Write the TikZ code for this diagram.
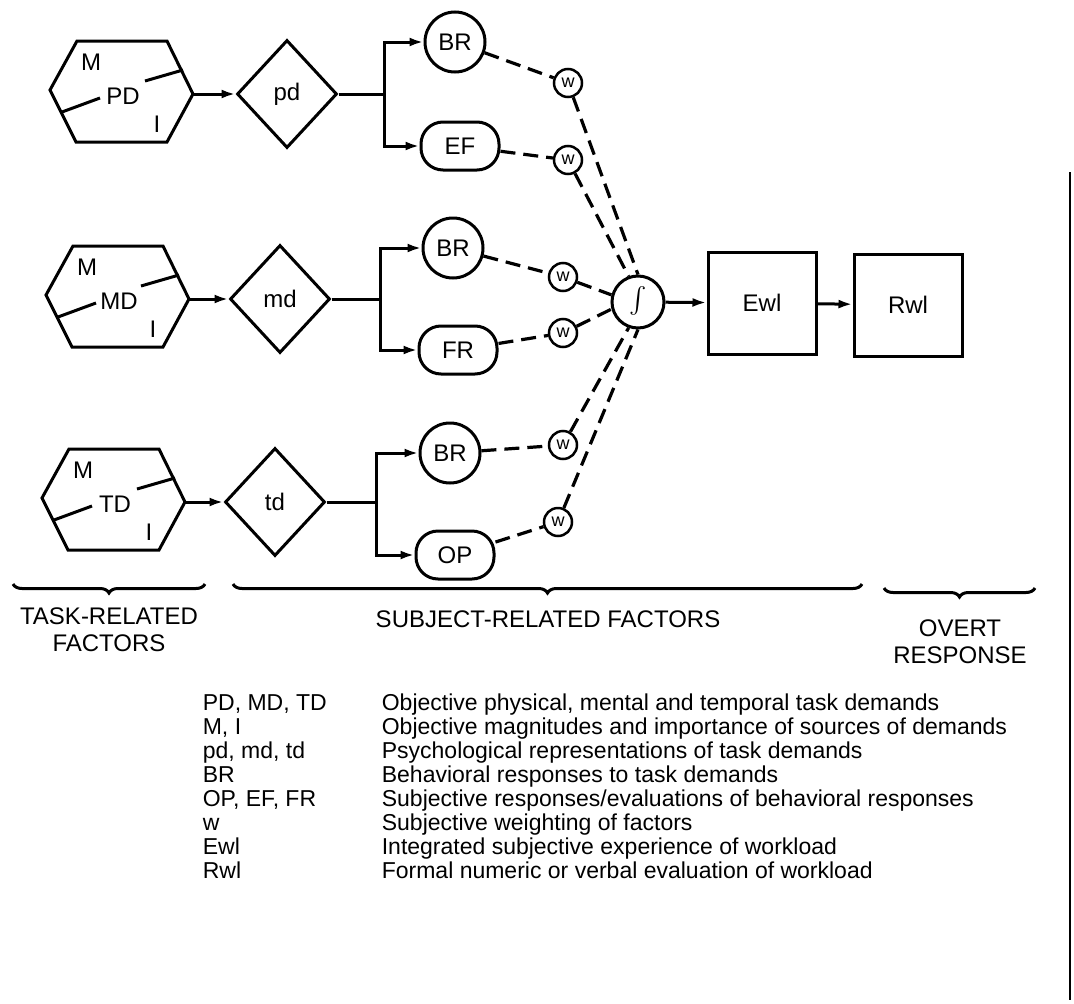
\documentclass[tikz,border=0pt]{standalone}
\usepackage{fontspec}
\setmainfont{Liberation Sans}
\usetikzlibrary{shapes.geometric,arrows.meta,decorations.pathreplacing}
\begin{document}
\begin{tikzpicture}[x=1pt,y=-1pt,
  line width=3pt,
  every node/.style={font=\fontsize{24}{27}\selectfont},
  dia/.style={draw,diamond,minimum width=100pt,minimum height=108pt,inner sep=0pt},
  circ/.style={draw,circle,minimum size=60pt,inner sep=0pt},
  pill/.style={draw,rounded corners=22pt,minimum width=78pt,minimum height=48pt,inner sep=0pt},
  wn/.style={draw,circle,minimum size=28pt,inner sep=0pt,line width=2.5pt,font=\fontsize{18}{20}\selectfont},
  box/.style={draw,minimum width=108pt,minimum height=102pt,inner sep=0pt},
  arr/.style={-{Latex[length=14pt,width=9pt]}},
  dsh/.style={dash pattern=on 15pt off 8pt,line width=3.2pt},
  brc/.style={decorate,decoration={brace,mirror,amplitude=9pt},line width=3pt},
  leg/.style={anchor=base west,font=\fontsize{23}{26}\selectfont}]
\useasboundingbox (0,0) rectangle (1074,1004);
% hexagons
\foreach \n/\cx/\cy/\lab in {1/121/92/PD,2/117/297/MD,3/113/500/TD}{
  \begin{scope}[shift={(\cx,\cy)}]
  \draw (-44,-51) -- (46,-51) -- (72,2) -- (46,50) -- (-45,50) -- (-71,-2) -- cycle;
  \draw (24,-11) -- (62,-22);
  \draw (-59,20) -- (-21,6);
  \node (hm\n) at (-30,-30) {M};
  \node (hl\n) at (2,4) {\lab};
  \node (hi\n) at (36,32) {I};
  \coordinate (hr\n) at (72,2);
  \end{scope}}
% diamonds
\node[dia] (d1) at (287,94) {pd};
\node[dia] (d2) at (280,299) {md};
\node[dia] (d3) at (275,502) {td};
\foreach \n in {1,2,3}{\draw[arr] (hr\n) -- (d\n.west);}
% responses
\node[circ] (b1) at (455,42) {BR};
\node[pill] (e1) at (460,146) {EF};
\node[circ] (b2) at (453,248) {BR};
\node[pill] (e2) at (458,350) {FR};
\node[circ] (b3) at (450,453) {BR};
\node[pill] (e3) at (455,555) {OP};
\coordinate (j1) at (384,94);
\coordinate (j2) at (380,299);
\coordinate (j3) at (376,502);
\foreach \n in {1,2,3}{
  \draw (d\n.east) -- (j\n);
  \draw[arr] (j\n) |- (b\n.west);
  \draw[arr] (j\n) |- (e\n.west);}
% weights and integrator
\node[wn] (w1) at (568,83) {w};
\node[wn] (w2) at (568,160) {w};
\node[wn] (w3) at (563,277) {w};
\node[wn] (w4) at (563,333) {w};
\node[wn] (w5) at (563,445) {w};
\node[wn] (w6) at (558,522) {w};
\node[draw,circle,minimum size=52pt,inner sep=0pt] (int) at (638,302) {\scalebox{2.6}{$\int$}};
\draw[dsh] (b1) -- (w1); \draw[dsh] (w1) -- (int.north);
\draw[dsh] (e1) -- (w2); \draw[dsh] (w2) -- (int.110);
\draw[dsh] (b2) -- (w3); \draw[dsh] (w3) -- (int.165);
\draw[dsh] (e2) -- (w4); \draw[dsh] (w4) -- (int.195);
\draw[dsh] (b3) -- (w5); \draw[dsh] (w5) -- (int.250);
\draw[dsh] (e3) -- (w6); \draw[dsh] (w6) -- (int.south);
\node[box] (ewl) at (762,303) {Ewl};
\node[box] (rwl) at (908,305) {Rwl};
\draw[arr] (int) -- (ewl);
\draw[arr] (ewl) -- (rwl);
% braces
\coordinate (ba1) at (13,584); \coordinate (bb1) at (205,584);
\coordinate (ba2) at (233,584); \coordinate (bb2) at (862,584);
\coordinate (ba3) at (884,588); \coordinate (bb3) at (1035,588);
\draw[brc] (ba1) -- (bb1);
\draw[brc] (ba2) -- (bb2);
\draw[brc] (ba3) -- (bb3);
\node[align=center] (t1) at (109,630) {TASK-RELATED\\FACTORS};
\node (t2) at (548,619) {SUBJECT-RELATED FACTORS};
\node[align=center] (t3) at (960,642) {OVERT\\RESPONSE};
% legend
\foreach \i/\a/\b in {0/{PD, MD, TD}/{Objective physical, mental and temporal task demands},
 1/{M, I}/{Objective magnitudes and importance of sources of demands},
 2/{pd, md, td}/{Psychological representations of task demands},
 3/{BR}/{Behavioral responses to task demands},
 4/{OP, EF, FR}/{Subjective responses/evaluations of behavioral responses},
 5/{w}/{Subjective weighting of factors},
 6/{Ewl}/{Integrated subjective experience of workload},
 7/{Rwl}/{Formal numeric or verbal evaluation of workload}}{
  \node[leg] (la\i) at (198,710+24*\i) {\a};
  \node[leg] (lb\i) at (377,710+24*\i) {\b};}
% right edge line
\draw[line width=1.2pt] (1070,172) -- (1070,1000);
\end{tikzpicture}
\end{document}
